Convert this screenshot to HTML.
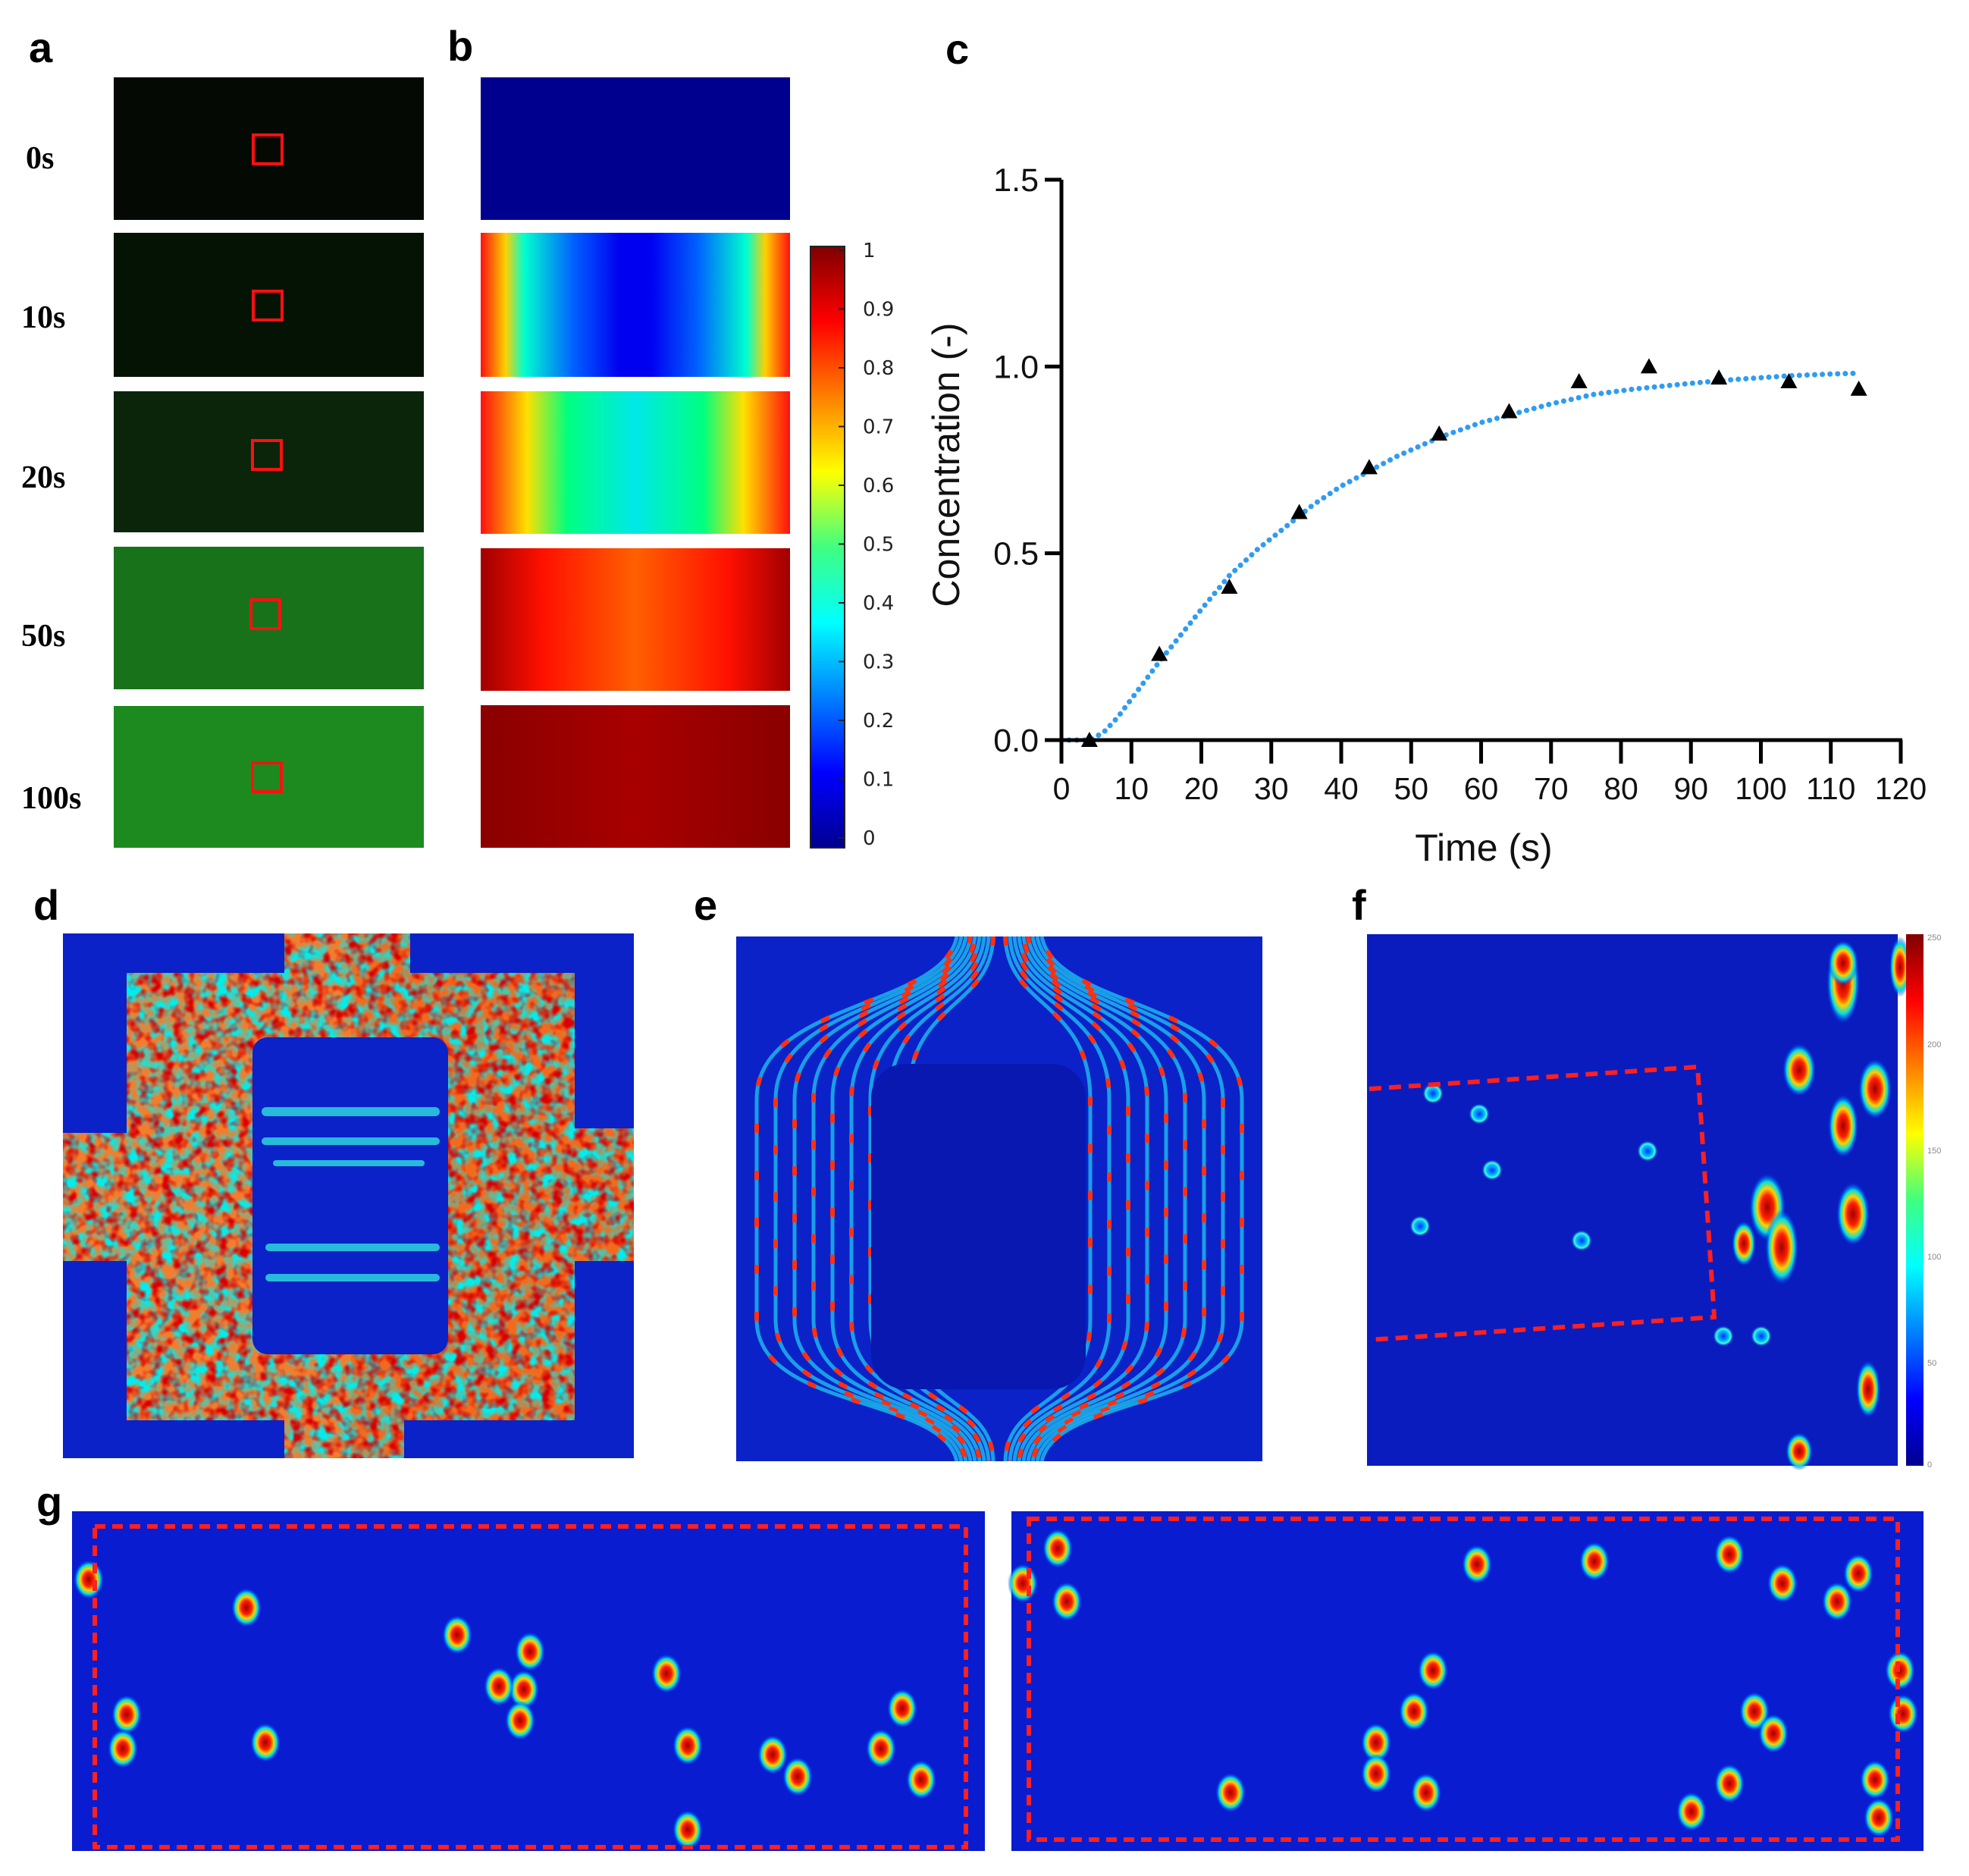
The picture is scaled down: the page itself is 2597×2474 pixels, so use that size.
<!DOCTYPE html>
<html><head><meta charset="utf-8"><style>
html,body{margin:0;padding:0;background:#fff;}
body{width:2597px;height:2474px;position:relative;overflow:hidden;font-family:"Liberation Sans",sans-serif;}
svg{position:absolute;left:0;top:0;}
</style></head><body>
<svg id="fig" width="2597" height="2474" viewBox="0 0 2597 2474" xmlns="http://www.w3.org/2000/svg">
<defs>
<linearGradient id="jetV" x1="0" y1="1" x2="0" y2="0">
<stop offset="0" stop-color="#00008f"/><stop offset="0.125" stop-color="#0000ff"/><stop offset="0.375" stop-color="#00ffff"/><stop offset="0.5" stop-color="#40ff80"/><stop offset="0.625" stop-color="#ffff00"/><stop offset="0.875" stop-color="#ff0000"/><stop offset="1" stop-color="#800000"/>
</linearGradient>
<linearGradient id="b2" x1="0" x2="1"><stop offset="0" stop-color="#ff1010"/><stop offset="0.08" stop-color="#ffd000"/><stop offset="0.14" stop-color="#00ffd0"/><stop offset="0.3" stop-color="#0060ff"/><stop offset="0.45" stop-color="#0000f0"/><stop offset="0.55" stop-color="#0000f0"/><stop offset="0.7" stop-color="#0060ff"/><stop offset="0.86" stop-color="#00ffd0"/><stop offset="0.92" stop-color="#ffd000"/><stop offset="1" stop-color="#ff1010"/></linearGradient>
<linearGradient id="b3" x1="0" x2="1"><stop offset="0" stop-color="#ff1010"/><stop offset="0.15" stop-color="#ffe000"/><stop offset="0.28" stop-color="#00ff80"/><stop offset="0.5" stop-color="#00e8e8"/><stop offset="0.72" stop-color="#00ff80"/><stop offset="0.85" stop-color="#ffe000"/><stop offset="1" stop-color="#ff1010"/></linearGradient>
<linearGradient id="b4" x1="0" x2="1"><stop offset="0" stop-color="#a00000"/><stop offset="0.2" stop-color="#ff1000"/><stop offset="0.5" stop-color="#ff6000"/><stop offset="0.8" stop-color="#ff1000"/><stop offset="1" stop-color="#a00000"/></linearGradient>
<linearGradient id="b5" x1="0" x2="1"><stop offset="0" stop-color="#8a0000"/><stop offset="0.5" stop-color="#a80000"/><stop offset="1" stop-color="#8a0000"/></linearGradient>
<radialGradient id="blob"><stop offset="0" stop-color="#a00000"/><stop offset="0.35" stop-color="#ff2000"/><stop offset="0.55" stop-color="#ffd000"/><stop offset="0.75" stop-color="#00e0e0"/><stop offset="1" stop-color="#0020ff" stop-opacity="0"/></radialGradient>
<radialGradient id="ring"><stop offset="0" stop-color="#0030ff"/><stop offset="0.5" stop-color="#00c0ff"/><stop offset="0.7" stop-color="#40ffd0"/><stop offset="1" stop-color="#0020ff" stop-opacity="0"/></radialGradient>
<filter id="noise" x="0" y="0" width="100%" height="100%"><feTurbulence type="fractalNoise" baseFrequency="0.06" numOctaves="2" seed="3"/><feColorMatrix type="matrix" values="0 0 0 0 0  0 0 0 0 0.85  0 0 0 0 0.85  0 0 0 -3 1.9"/></filter>
<filter id="noise2" x="0" y="0" width="100%" height="100%"><feTurbulence type="fractalNoise" baseFrequency="0.07" numOctaves="2" seed="9"/><feColorMatrix type="matrix" values="0 0 0 0 0.7  0 0 0 0 0  0 0 0 0 0  0 0 0 -3 1.7"/></filter>
<clipPath id="dclip"><path id="dshape" d="M375 1231 H541 V1283 H758 V1488 H836 V1663 H758 V1873 H533 V1923 H375 V1873 H167 V1663 H83 V1494 H167 V1283 H375 Z"/></clipPath>
<clipPath id="eclip"><rect x="971" y="1235" width="694" height="692"/></clipPath>
</defs>

<g font-family="Liberation Sans, sans-serif" font-weight="bold" font-size="56" fill="#000">
<text x="38" y="82">a</text>
<text x="590" y="80">b</text>
<text x="1247" y="84">c</text>
<text x="44" y="1213">d</text>
<text x="915" y="1213">e</text>
<text x="1783" y="1213">f</text>
<text x="48" y="2000">g</text>
</g>

<g font-family="Liberation Serif, serif" font-weight="bold" font-size="42">
<rect x="150" y="102" width="409" height="188" fill="#040904"/>
<rect x="150" y="307" width="409" height="190" fill="#051305"/>
<rect x="150" y="516" width="409" height="186" fill="#0a250a"/>
<rect x="150" y="721" width="409" height="188" fill="#17721a"/>
<rect x="150" y="931" width="409" height="187" fill="#1c8a1e"/>
<g fill="none" stroke="#ff1010" stroke-width="4">
<rect x="334" y="178" width="38" height="38"/>
<rect x="334" y="384" width="38" height="38"/>
<rect x="333" y="581" width="38" height="38"/>
<rect x="331" y="791" width="38" height="38"/>
<rect x="333" y="1006" width="38" height="38"/>
</g>
<text x="34" y="222">0s</text>
<text x="28" y="432">10s</text>
<text x="28" y="643">20s</text>
<text x="28" y="852">50s</text>
<text x="28" y="1066">100s</text>
</g>

<g>
<rect x="634" y="102" width="408" height="188" fill="#00008f"/>
<rect x="634" y="307" width="408" height="190" fill="url(#b2)"/>
<rect x="634" y="516" width="408" height="188" fill="url(#b3)"/>
<rect x="634" y="723" width="408" height="188" fill="url(#b4)"/>
<rect x="634" y="930" width="408" height="188" fill="url(#b5)"/>
<rect x="1069" y="325" width="45" height="793" fill="url(#jetV)" stroke="#222" stroke-width="2"/>
<g id="cbTicks" font-family="DejaVu Sans, sans-serif" font-size="26" fill="#222"></g>
</g>

<g id="chartC"></g>

<g>
<rect x="83" y="1231" width="753" height="692" fill="#0a22c8"/>
<g clip-path="url(#dclip)">
<rect x="83" y="1231" width="753" height="692" fill="#f26a1e"/>
<rect x="83" y="1231" width="380" height="692" fill="#f09040" opacity="0.5"/>
<rect x="83" y="1231" width="753" height="692" filter="url(#noise)"/>
<rect x="83" y="1231" width="753" height="692" filter="url(#noise2)"/>
</g>
<rect x="333" y="1368" width="258" height="418" rx="20" fill="#0a22c8"/>
<g fill="#30e0e0" opacity="0.8">
<rect x="345" y="1460" width="235" height="12" rx="6"/><rect x="345" y="1500" width="235" height="10" rx="5"/><rect x="360" y="1530" width="200" height="8" rx="4"/>
<rect x="350" y="1640" width="230" height="10" rx="5"/><rect x="350" y="1680" width="230" height="10" rx="5"/>
</g>
</g>

<g>
<rect x="971" y="1235" width="694" height="692" fill="#0a22c8"/>
<g id="eLines" fill="none" clip-path="url(#eclip)"></g>
<rect x="1149" y="1403" width="283" height="429" rx="45" fill="#0818b0"/>
</g>

<g>
<rect x="1803" y="1232" width="700" height="701" fill="#0a1cbe"/>
<g id="fBlobs"></g>
<polyline points="1806,1436 2239,1407 2261,1737 1806,1767" fill="none" stroke="#ff2020" stroke-width="6" stroke-dasharray="16 10"/>
<rect x="2514" y="1232" width="23" height="701" fill="url(#jetV)"/>
<g font-family="Liberation Sans, sans-serif" font-size="11" fill="#888">
<text x="2542" y="1240">250</text><text x="2542" y="1381">200</text><text x="2542" y="1521">150</text><text x="2542" y="1661">100</text><text x="2542" y="1801">50</text><text x="2542" y="1935">0</text>
</g>
</g>

<g>
<rect x="95" y="1993" width="1204" height="448" fill="#0a1ccf"/>
<rect x="1334" y="1993" width="1203" height="448" fill="#0a1ccf"/>
<g id="gBlobs"></g>
<rect x="125" y="2013" width="1149" height="423" fill="none" stroke="#ff2020" stroke-width="6" stroke-dasharray="14 9"/>
<rect x="1357" y="2003" width="1146" height="423" fill="none" stroke="#ff2020" stroke-width="6" stroke-dasharray="14 9"/>
</g>
</svg>

<script>
const xTicks = [0,10,20,30,40,50,60,70,80,90,100,110,120];
const yTicks = [0.0,0.5,1.0,1.5];
const yTickLabels = ["0.0","0.5","1.0","1.5"];
const measTime = [4,14,24,34,44,54,64,74,84,94,104,114];
const measConc = [0.0,0.23,0.41,0.61,0.73,0.82,0.88,0.96,1.0,0.97,0.96,0.94];
const fitTime = [0,2,4,6,8,10,12,14,17,20,24,28,32,36,40,44,48,54,60,64,70,76,82,90,96,104,110,114];
const fitConc = [0,0,0,0.02,0.06,0.11,0.16,0.21,0.28,0.35,0.44,0.51,0.57,0.63,0.68,0.72,0.76,0.81,0.85,0.87,0.90,0.925,0.94,0.955,0.965,0.975,0.98,0.982];
const cbValues = [0,0.1,0.2,0.3,0.4,0.5,0.6,0.7,0.8,0.9,1];

const NS = "http://www.w3.org/2000/svg";
function mk(tag, attrs, parent){const e=document.createElementNS(NS,tag);for(const k in attrs)e.setAttribute(k,attrs[k]);parent.appendChild(e);return e;}

const X0=1400, X1=2507, Y0=976, Y1=237;
function xs(v){return X0+(v-0)/(120-0)*(X1-X0);}
function ys(v){return Y0-(v-0)/(1.5-0)*(Y0-Y1);}
const C=document.getElementById('chartC');

let d='';
fitTime.forEach((t,i)=>{d+=(i?'L':'M')+xs(t).toFixed(1)+' '+ys(fitConc[i]).toFixed(1);});
const fit=mk('path',{d:d,fill:'none',stroke:'#2f9cf2','stroke-width':7,'stroke-dasharray':'0.1 10','stroke-linecap':'round'},C);



const yAx=mk('line',{x1:X0,y1:Y1,x2:X0,y2:Y0+2,stroke:'#000','stroke-width':5},C);


const xAx=mk('line',{x1:X0-20,y1:Y0,x2:X1+2,y2:Y0,stroke:'#000','stroke-width':5},C);



yTicks.forEach((v,i)=>{
  mk('line',{x1:X0-22,y1:ys(v),x2:X0,y2:ys(v),stroke:'#000','stroke-width':5},C);
  const t=mk('text',{x:X0-30,y:ys(v)+15,'text-anchor':'end','font-size':43,'font-family':'Liberation Sans, sans-serif',fill:'#111'},C);
  t.textContent=yTickLabels[i];
  
  
});
xTicks.forEach(v=>{
  mk('line',{x1:xs(v),y1:Y0,x2:xs(v),y2:Y0+31,stroke:'#000','stroke-width':5},C);
  const t=mk('text',{x:xs(v),y:Y0+78,'text-anchor':'middle','font-size':41,'font-family':'Liberation Sans, sans-serif',fill:'#111'},C);
  t.textContent=String(v);
  
  
});
const xt=mk('text',{x:1957,y:1135,'text-anchor':'middle','font-size':50,'font-family':'Liberation Sans, sans-serif',fill:'#111'},C);
xt.textContent='Time (s)';


const yt=mk('text',{x:1265,y:613,'text-anchor':'middle','font-size':50,'font-family':'Liberation Sans, sans-serif',fill:'#111',transform:'rotate(-90 1265 613)'},C);
yt.textContent='Concentration (-)';



measTime.forEach((t,i)=>{
  const cx=xs(t), cy=ys(measConc[i]);
  const p=mk('polygon',{points:`${cx-11},${cy+9} ${cx+11},${cy+9} ${cx},${cy-11}`,fill:'#000'},C);
  
  
});

const CB=document.getElementById('cbTicks');
cbValues.forEach(v=>{
  const y=1105-(1105-330)*v;
  mk('line',{x1:1106,y1:y,x2:1114,y2:y,stroke:'#222','stroke-width':2},CB);
  const t=mk('text',{x:1138,y:y+9},CB);
  t.textContent=(v===0||v===1)?String(v):v.toFixed(1);
  
  
});

const E=document.getElementById('eLines');
for(let k=0;k<9;k++){
  const off=120+k*25;
  [-1,1].forEach(s=>{
    const cx=1318;
    const p=`M${cx+s*(8+k*6)} 1235 C${cx+s*(10+k*8)} 1330 ${cx+s*off} 1320 ${cx+s*off} 1450 L${cx+s*off} 1740 C${cx+s*off} 1860 ${cx+s*(10+k*8)} 1840 ${cx+s*(8+k*6)} 1927`;
    mk('path',{d:p,stroke:'#20c8f0','stroke-width':5,opacity:0.75},E);
    mk('path',{d:p,stroke:'#ff3010','stroke-width':6,'stroke-dasharray':'12 50','stroke-dashoffset':k*13},E);
  });
}

const F=document.getElementById('fBlobs');
[[2431,1296,22,55],[2431,1270,20,30],[2373,1411,22,35],[2473,1436,22,40],[2431,1485,20,42],[2331,1592,24,45],[2350,1645,22,50],[2444,1601,22,42],[2506,1275,14,40],[2464,1832,16,38],[2373,1914,18,25],[2300,1640,16,30]].forEach(b=>{
  mk('ellipse',{cx:b[0],cy:b[1],rx:b[2],ry:b[3],fill:'url(#blob)'},F);
});
[[1890,1442],[1951,1469],[1968,1543],[1873,1617],[2086,1636],[2173,1518],[2273,1762],[2323,1762]].forEach(b=>{
  mk('circle',{cx:b[0],cy:b[1],r:14,fill:'url(#ring)'},F);
});
const G=document.getElementById('gBlobs');
[[117,2083],[325,2120],[603,2156],[699,2178],[691,2228],[658,2224],[879,2207],[167,2261],[162,2306],[350,2298],[907,2302],[1019,2314],[1052,2343],[1190,2253],[1162,2306],[1215,2347],[907,2413],[686,2269],
 [1395,2042],[1407,2112],[1349,2088],[1948,2063],[2103,2059],[2281,2050],[2351,2088],[2423,2112],[2451,2075],[1890,2203],[1865,2257],[1815,2298],[1815,2339],[1623,2364],[1881,2364],[2314,2257],[2339,2286],[2281,2352],[2231,2389],[2473,2347],[2506,2203],[2478,2397],[2510,2260]].forEach(b=>{
  mk('ellipse',{cx:b[0],cy:b[1],rx:20,ry:26,fill:'url(#blob)'},G);
});
</script>
</body></html>
